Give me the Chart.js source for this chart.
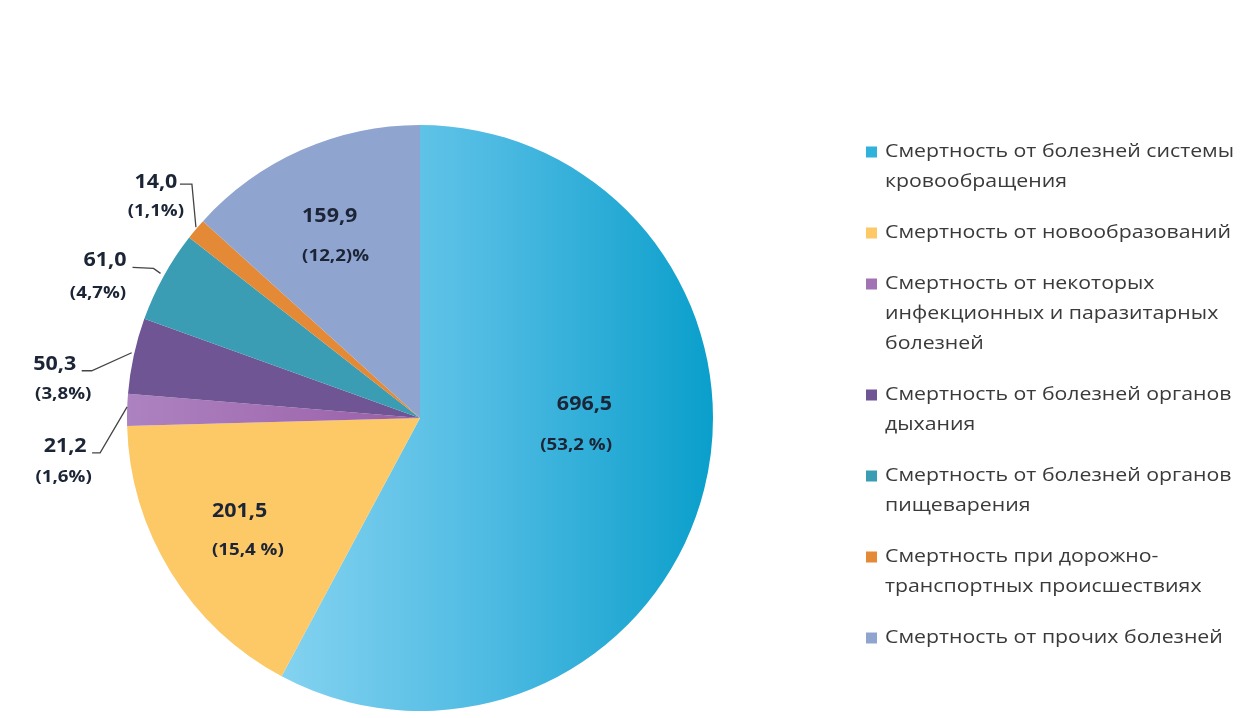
<!DOCTYPE html>
<html>
<head>
<meta charset="utf-8">
<script src="https://cdn.jsdelivr.net/npm/chart.js@4"></script>
<style>
html,body{margin:0;padding:0;background:#fff;}
#wrap{width:1246px;height:718px;position:relative;}
</style>
</head>
<body>
<div id="wrap"><canvas id="c"></canvas></div>
<script>
// ---- data ----
const categories = [
  'Смертность от болезней системы\nкровообращения',
  'Смертность от новообразований',
  'Смертность от некоторых\nинфекционных и паразитарных\nболезней',
  'Смертность от болезней органов\nдыхания',
  'Смертность от болезней органов\nпищеварения',
  'Смертность при дорожно-\nтранспортных происшествиях',
  'Смертность от прочих болезней'
];
const values = [696.5, 201.5, 21.2, 50.3, 61.0, 14.0, 159.9];
const valueLabels = ['696,5', '201,5', '21,2', '50,3', '61,0', '14,0', '159,9'];
const percentLabels = ['(53,2 %)', '(15,4 %)', '(1,6%)', '(3,8%)', '(4,7%)', '(1,1%)', '(12,2)%'];
const colors = ['#2fb2dc', '#fdc866', '#a173b5', '#6f5593', '#3b9db3', '#e48a36', '#90a4d0'];

// ---- label placement (style) ----
const inside = {
  0: {da: -12, r: 0.656, align: 'right', gap: 20.5},
  1: {da: 3.2, r: 0.808, align: 'left', gap: 19},
  6: {da: -9.1, r: 0.739, align: 'left', gap: 20}
};
const outside = {
  5: {v: [-40, -47], p: [-40, -17.5], lead: [[0, -2], [-4, -45], [-16, -45]]},
  4: {v: [-58.5, -16], p: [-65.5, 17], lead: [[-3, -3], [-10, -8], [-31, -9]]},
  3: {v: [-79, 9], p: [-70.5, 39], lead: [[-2, -3], [-42, 15], [-52, 15]]},
  2: {v: [-62, 37], p: [-63.5, 68], lead: [[0, -3], [-27, 43], [-35, 43]]}
};

const FONT = '"Open Sans", "DejaVu Sans", sans-serif';
const labelColor = '#1c2536';
const VALUE_FONT = 'bold 19px ' + FONT, VALUE_SX = 1.13;
const PCT_FONT = 'bold 16px ' + FONT, PCT_SX = 1.17;
const LEG_FONT = '19px ' + FONT, LEG_SX = 1.12;

function stretchText(ctx, text, x, y, sx) {
  ctx.save();
  ctx.translate(x, y);
  ctx.scale(sx, 1);
  ctx.fillText(text, 0, 0);
  ctx.restore();
}

const labelPlugin = {
  id: 'pieLabels',
  afterDatasetsDraw(chart) {
    const ctx = chart.ctx;
    const meta = chart.getDatasetMeta(0);
    ctx.save();
    meta.data.forEach((arc, i) => {
      const p = arc.getProps(['x', 'y', 'startAngle', 'endAngle', 'outerRadius'], true);
      const mid = (p.startAngle + p.endAngle) / 2;
      if (inside[i]) {
        const c = inside[i];
        const a = mid + c.da * Math.PI / 180;
        const ax = p.x + Math.cos(a) * p.outerRadius * c.r;
        const ay = p.y + Math.sin(a) * p.outerRadius * c.r;
        ctx.fillStyle = labelColor;
        ctx.textAlign = c.align;
        ctx.textBaseline = 'middle';
        ctx.font = VALUE_FONT;
        stretchText(ctx, valueLabels[i], ax, ay - c.gap, VALUE_SX);
        ctx.font = PCT_FONT;
        stretchText(ctx, percentLabels[i], ax, ay + c.gap, PCT_SX);
      } else if (outside[i]) {
        const c = outside[i];
        const ex = p.x + Math.cos(mid) * p.outerRadius;
        const ey = p.y + Math.sin(mid) * p.outerRadius;
        ctx.strokeStyle = '#444';
        ctx.lineWidth = 1.3;
        ctx.beginPath();
        c.lead.forEach((o, k) => {
          if (k === 0) ctx.moveTo(ex + o[0], ey + o[1]);
          else ctx.lineTo(ex + o[0], ey + o[1]);
        });
        ctx.stroke();
        ctx.fillStyle = labelColor;
        ctx.textAlign = 'center';
        ctx.textBaseline = 'middle';
        ctx.font = VALUE_FONT;
        stretchText(ctx, valueLabels[i], ex + c.v[0], ey + c.v[1], VALUE_SX);
        ctx.font = PCT_FONT;
        stretchText(ctx, percentLabels[i], ex + c.p[0], ey + c.p[1], PCT_SX);
      }
    });
    ctx.restore();
  }
};

const legendPlugin = {
  id: 'sideLegend',
  afterDraw(chart) {
    const ctx = chart.ctx;
    const x0 = 866, tx = 885, lineH = 30, gapItem = 21, sq = 11;
    let y = 152;
    ctx.save();
    ctx.font = LEG_FONT;
    ctx.textAlign = 'left';
    ctx.textBaseline = 'middle';
    categories.forEach((name, i) => {
      const lines = name.split('\n');
      ctx.fillStyle = colors[i];
      ctx.fillRect(x0, y - sq / 2, sq, sq);
      ctx.fillStyle = '#3a3a3a';
      lines.forEach((ln, k) => stretchText(ctx, ln, tx, y + k * lineH, LEG_SX));
      y += lines.length * lineH + gapItem;
    });
    ctx.restore();
  }
};

function bg(context) {
  const i = context.dataIndex;
  const chart = context.chart;
  const ca = chart.chartArea;
  if (i === 0 && ca) {
    const w = ca.right - ca.left;
    const g = chart.ctx.createLinearGradient(ca.left + w * 0.25, 0, ca.right, 0);
    g.addColorStop(0, '#86d3f1');
    g.addColorStop(0.5, '#4dbae2');
    g.addColorStop(1, '#0a9fcb');
    return g;
  }
  if (i === 2 && ca) {
    const g = chart.ctx.createLinearGradient(ca.left, 0, ca.left + (ca.right - ca.left) / 2, 0);
    g.addColorStop(0, '#ad82c0');
    g.addColorStop(1, '#9a5fa8');
    return g;
  }
  return colors[i];
}

new Chart(document.getElementById('c'), {
  type: 'pie',
  data: {
    labels: categories.map(s => s.replace(/\n/g, ' ')),
    datasets: [{
      data: values,
      backgroundColor: bg,
      borderWidth: 0
    }]
  },
  options: {
    responsive: true,
    maintainAspectRatio: false,
    animation: false,
    layout: {padding: {left: 127, right: 533, top: 125, bottom: 7}},
    plugins: {
      legend: {display: false},
      tooltip: {enabled: false}
    }
  },
  plugins: [labelPlugin, legendPlugin]
});
</script>
</body>
</html>
